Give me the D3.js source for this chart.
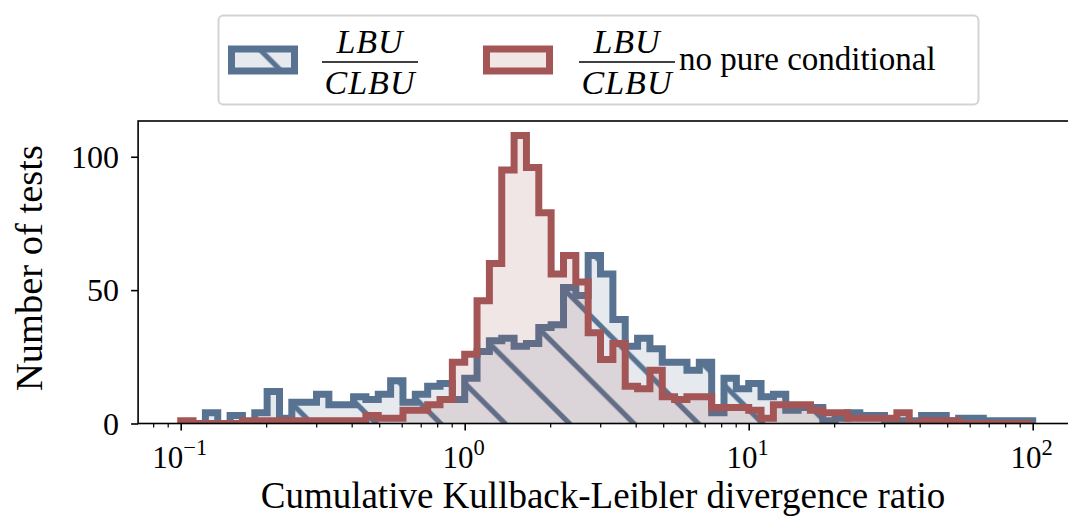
<!DOCTYPE html>
<html>
<head>
<meta charset="utf-8">
<script src="https://cdn.jsdelivr.net/npm/d3@7"></script>
<style>
  html, body { margin: 0; padding: 0; background: #ffffff; }
  svg { display: block; font-family: "Liberation Serif", "Times New Roman", serif; }
</style>
</head>
<body>
<svg id="chart" width="1068" height="516"></svg>
<script>
// Histogram bins: log-spaced edges between binLow and binHigh
const binLow = 0.1;
const binHigh = 100;
const binCount = 69;

// Counts per bin, LBU / CLBU
const countsAll = [
  0, 0, 4, 0, 3, 0, 4, 12, 2, 8,
  8, 11, 7, 7, 10, 9, 11, 16, 8, 11,
  14, 15, 9, 17, 27, 31, 32, 29, 30, 36,
  37, 51, 48, 63, 56, 39, 29, 32, 28, 23,
  23, 20, 23, 4, 17, 13, 15, 10, 11, 5,
  6, 6, 1, 2, 4, 3, 3, 1, 1, 1,
  3, 3, 1, 2, 2, 1, 1, 1, 1
];

// Counts per bin, LBU / CLBU without pure conditional
const countsNoPure = [
  1, 0, 0, 0, 0, 1, 1, 1, 1, 1,
  1, 1, 1, 1, 1, 3, 2, 2, 5, 5,
  7, 9, 23, 26, 46, 60, 95, 108, 96, 79,
  56, 63, 53, 34, 24, 30, 14, 13, 20, 10,
  9, 10, 10, 6, 6, 6, 5, 2, 7, 7,
  7, 5, 4, 4, 2, 2, 2, 2, 4, 0,
  1, 1, 1, 0, 0, 0, 0, 0, 0
];

const xMajorTicks = [0.1, 1, 10, 100];
const xTickExponents = ["\u22121", "0", "1", "2"];
const yTicks = [0, 50, 100];
const yTickLabels = ["0", "50", "100"];

const xLabel = "Cumulative Kullback-Leibler divergence ratio";
const yLabel = "Number of tests";
const legendTail = "no pure conditional";

const colorBlue = "#587391";
const colorRed = "#a45656";

const svg = d3.select("#chart");

// plot frame
const plot = { left: 138.1, right: 1075.3, top: 121, bottom: 423.5 };
const x = d3.scaleLog()
  .domain([Math.pow(10, -1.15), Math.pow(10, 2.15)])
  .range([plot.left, plot.right]);
const y = d3.scaleLinear()
  .domain([0, 113.4])
  .range([plot.bottom, plot.top]);

const edges = d3.range(binCount + 1).map(i => binLow * Math.pow(binHigh / binLow, i / binCount));

const defs = svg.append("defs");
defs.append("clipPath").attr("id", "plotClip")
  .append("rect")
  .attr("x", plot.left).attr("y", plot.top)
  .attr("width", plot.right - plot.left).attr("height", plot.bottom - plot.top);

// back-slash hatch tile
const hs = 64.4;
const hatch = defs.append("pattern")
  .attr("id", "hatchBack")
  .attr("patternUnits", "userSpaceOnUse")
  .attr("width", hs).attr("height", hs)
  .attr("x", 17.1).attr("y", 0);
hatch.append("path")
  .attr("d", `M0,0L${hs},${hs}M${-hs / 2},${hs / 2}L${hs / 2},${1.5 * hs}M${hs / 2},${-hs / 2}L${1.5 * hs},${hs / 2}`)
  .attr("stroke", colorBlue)
  .attr("stroke-width", 5.2)
  .attr("fill", "none");

function stepPoints(counts) {
  const pts = [[edges[0], 0]];
  counts.forEach((c, i) => {
    pts.push([edges[i], c]);
    pts.push([edges[i + 1], c]);
  });
  pts.push([edges[counts.length], 0]);
  return pts;
}
const stepLine = d3.line().x(d => x(d[0])).y(d => y(d[1]));

const marks = svg.append("g").attr("clip-path", "url(#plotClip)");

// LBU / CLBU: light fill, hatch, edge
const pathAll = stepLine(stepPoints(countsAll));
marks.append("path").attr("d", pathAll)
  .attr("fill", colorBlue).attr("fill-opacity", 0.15).attr("stroke", "none");
marks.append("path").attr("d", pathAll)
  .attr("fill", "url(#hatchBack)").attr("stroke", "none");
marks.append("path").attr("d", pathAll)
  .attr("fill", "none").attr("stroke", colorBlue)
  .attr("stroke-width", 7).attr("stroke-linejoin", "miter").attr("stroke-linecap", "butt");

// no pure conditional: light fill, edge
const pathNoPure = stepLine(stepPoints(countsNoPure));
marks.append("path").attr("d", pathNoPure)
  .attr("fill", colorRed).attr("fill-opacity", 0.15).attr("stroke", "none");
marks.append("path").attr("d", pathNoPure)
  .attr("fill", "none").attr("stroke", colorRed)
  .attr("stroke-width", 7).attr("stroke-linejoin", "miter").attr("stroke-linecap", "butt");

// axes
const minorTicks = [];
[-2, -1, 0, 1, 2].forEach(e => {
  for (let m = 2; m <= 9; m++) {
    const v = m * Math.pow(10, e);
    if (v >= x.domain()[0] && v <= x.domain()[1]) minorTicks.push(v);
  }
});

const xAxisMajor = d3.axisBottom(x).tickValues(xMajorTicks).tickSize(7).tickFormat("");
const xAxisMinor = d3.axisBottom(x).tickValues(minorTicks).tickSize(4).tickFormat("");
const gxMinor = svg.append("g").attr("transform", `translate(0,${plot.bottom})`).call(xAxisMinor);
const gx = svg.append("g").attr("transform", `translate(0,${plot.bottom})`).call(xAxisMajor);
gxMinor.select(".domain").remove();
gxMinor.selectAll("line").attr("stroke", "#000").attr("stroke-width", 1.2);
gx.select(".domain").remove();
gx.selectAll("line").attr("stroke", "#000").attr("stroke-width", 1.6);

const yAxis = d3.axisLeft(y).tickValues(yTicks).tickSize(7).tickFormat("");
const gy = svg.append("g").attr("transform", `translate(${plot.left},0)`).call(yAxis);
gy.select(".domain").remove();
gy.selectAll("line").attr("stroke", "#000").attr("stroke-width", 1.6);

// frame
svg.append("rect")
  .attr("x", plot.left).attr("y", plot.top)
  .attr("width", plot.right - plot.left).attr("height", plot.bottom - plot.top)
  .attr("fill", "none").attr("stroke", "#000").attr("stroke-width", 1.6);

// x tick labels 10^n
xMajorTicks.forEach((v, i) => {
  const t = svg.append("text")
    .attr("x", x(v) - 1).attr("y", 467.8)
    .attr("text-anchor", "middle")
    .attr("font-size", 31).attr("fill", "#000");
  t.append("tspan").text("10");
  t.append("tspan").attr("dy", -12.5).attr("font-size", 22.5).text(xTickExponents[i]);
});

// y tick labels
yTicks.forEach((v, i) => {
  svg.append("text")
    .attr("x", 119).attr("y", y(v) + 11)
    .attr("text-anchor", "end")
    .attr("font-size", 32).attr("fill", "#000")
    .text(yTickLabels[i]);
});

// axis titles
svg.append("text")
  .attr("x", 603).attr("y", 507.8)
  .attr("text-anchor", "middle").attr("font-size", 37)
  .text(xLabel);
svg.append("text")
  .attr("transform", `translate(42,268) rotate(-90)`)
  .attr("text-anchor", "middle").attr("font-size", 38.5)
  .text(yLabel);

// legend
const lg = svg.append("g");
lg.append("rect")
  .attr("x", 218.5).attr("y", 15.5).attr("width", 760).attr("height", 89).attr("rx", 5)
  .attr("fill", "#fff").attr("stroke", "#d3d3d3").attr("stroke-width", 2);

function legendPatch(x0, color, hatched) {
  const r = { x: x0 + 3.5, y: 49, w: 63, h: 22 };
  lg.append("rect").attr("x", r.x).attr("y", r.y).attr("width", r.w).attr("height", r.h)
    .attr("fill", color).attr("fill-opacity", 0.15);
  if (hatched) {
    lg.append("rect").attr("x", r.x).attr("y", r.y).attr("width", r.w).attr("height", r.h)
      .attr("fill", "url(#hatchBack)");
  }
  lg.append("rect").attr("x", r.x).attr("y", r.y).attr("width", r.w).attr("height", r.h)
    .attr("fill", "none").attr("stroke", color).attr("stroke-width", 7);
}
function fraction(cx) {
  lg.append("text").attr("x", cx).attr("y", 53).attr("text-anchor", "middle")
    .attr("font-size", 34).attr("font-style", "italic").attr("letter-spacing", 1)
    .text("LBU");
  lg.append("line").attr("x1", cx - 48).attr("x2", cx + 48).attr("y1", 62).attr("y2", 62)
    .attr("stroke", "#000").attr("stroke-width", 1.5);
  lg.append("text").attr("x", cx).attr("y", 94).attr("text-anchor", "middle")
    .attr("font-size", 34).attr("font-style", "italic").attr("letter-spacing", 1)
    .text("CLBU");
}
legendPatch(228, colorBlue, true);
fraction(370);
legendPatch(483, colorRed, false);
fraction(627);
lg.append("text").attr("x", 679).attr("y", 70).attr("font-size", 33).text(legendTail);
</script>
</body>
</html>
